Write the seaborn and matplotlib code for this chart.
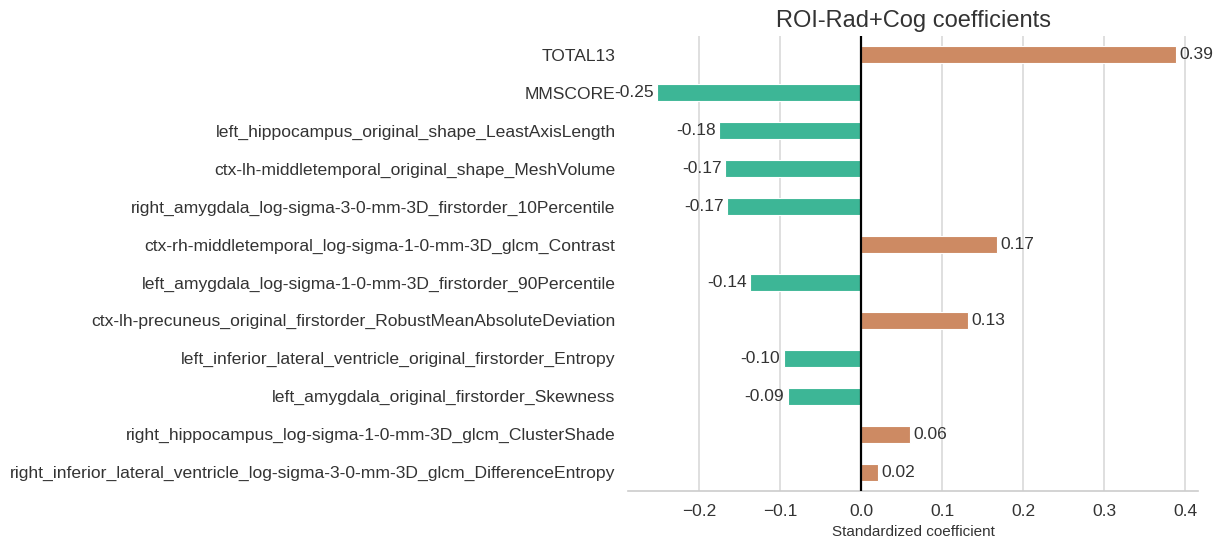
import matplotlib
matplotlib.use("Agg")
import matplotlib.pyplot as plt
import seaborn as sns
import pandas as pd

features = [
    "TOTAL13",
    "MMSCORE",
    "left_hippocampus_original_shape_LeastAxisLength",
    "ctx-lh-middletemporal_original_shape_MeshVolume",
    "right_amygdala_log-sigma-3-0-mm-3D_firstorder_10Percentile",
    "ctx-rh-middletemporal_log-sigma-1-0-mm-3D_glcm_Contrast",
    "left_amygdala_log-sigma-1-0-mm-3D_firstorder_90Percentile",
    "ctx-lh-precuneus_original_firstorder_RobustMeanAbsoluteDeviation",
    "left_inferior_lateral_ventricle_original_firstorder_Entropy",
    "left_amygdala_original_firstorder_Skewness",
    "right_hippocampus_log-sigma-1-0-mm-3D_glcm_ClusterShade",
    "right_inferior_lateral_ventricle_log-sigma-3-0-mm-3D_glcm_DifferenceEntropy",
]
coefs = [0.389, -0.252, -0.176, -0.168, -0.166, 0.168, -0.137, 0.132, -0.096, -0.091, 0.060, 0.021]

sns.set_theme(style="whitegrid")
plt.rcParams["font.family"] = ["Liberation Sans", "DejaVu Sans"]

df = pd.DataFrame({"feature": features, "coef": coefs})
df["sign"] = ["pos" if v > 0 else "neg" for v in coefs]
palette = {"pos": "#cd8a63", "neg": "#3db696"}

fig = plt.figure(figsize=(12.29, 5.42), dpi=100)
ax = fig.add_axes([0.511, 0.094, 0.464, 0.84])

sns.barplot(data=df, x="coef", y="feature", hue="sign", palette=palette,
            dodge=False, legend=False, width=0.45, edgecolor="white",
            linewidth=0.8, ax=ax, orient="h", saturation=1)

ax.axvline(0, color="black", linewidth=1.6, zorder=5)
ax.set_xlim(-0.288, 0.416)
ax.set_ylim(11.5, -0.5)
ax.yaxis.grid(False)
ax.xaxis.grid(True, color="#d9d9d9", linewidth=1.2)
for s in ["left", "top", "right"]:
    ax.spines[s].set_visible(False)
ax.spines["bottom"].set_color("#cccccc")
ax.spines["bottom"].set_linewidth(1.2)

for i, v in enumerate(coefs):
    if v >= 0:
        ax.text(v + 0.004, i, f"{v:.2f}", va="center", ha="left", fontsize=12.5, color="#333333")
    else:
        ax.text(v - 0.004, i, f"{v:.2f}", va="center", ha="right", fontsize=12.5, color="#333333")

ax.set_title("ROI-Rad+Cog coefficients", fontsize=17, color="#333333", pad=6)
ax.set_xlabel("Standardized coefficient", fontsize=11, color="#333333", labelpad=4)
ax.set_ylabel("")
ax.tick_params(axis="y", labelsize=12.6, labelcolor="#333333", pad=9, length=0)
ax.tick_params(axis="x", labelsize=12.5, labelcolor="#333333")

fig.savefig("out.png", dpi=100)
